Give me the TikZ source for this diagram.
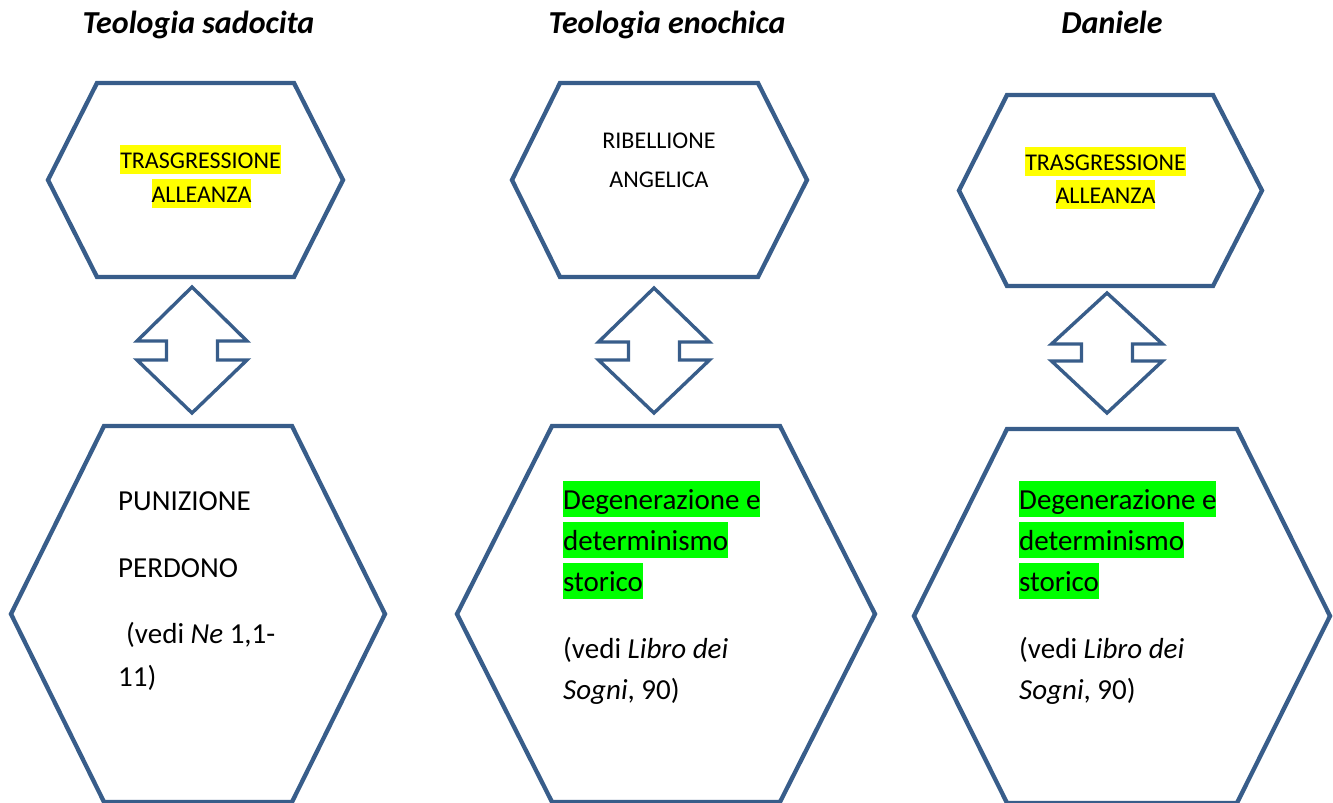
\documentclass[tikz,border=0pt]{standalone}
\usepackage{fontspec}
\setmainfont{Carlito}
\definecolor{hexblue}{RGB}{56,93,138}
\definecolor{hlyellow}{RGB}{255,255,0}
\definecolor{hlgreen}{RGB}{0,255,0}
\newcommand\hlbox[2]{{\setlength{\fboxsep}{0pt}\colorbox{#1}{\rule[-0.269em]{0pt}{1.221em}#2}}}
\tikzset{
  hexa/.style={draw=hexblue, line width=4.3pt, fill=white},
  blockarrow/.style={draw=hexblue, line width=3.4pt, fill=white},
  titletext/.style={inner sep=0pt, anchor=base, font=\fontsize{32pt}{32pt}\selectfont\bfseries\itshape},
  toptext/.style={inner sep=0pt, anchor=base, font=\fontsize{24pt}{24pt}\selectfont},
  bottext/.style={inner sep=0pt, anchor=base west, font=\fontsize{29pt}{29pt}\selectfont},
}
\begin{document}
\begin{tikzpicture}[x=1pt, y=-1pt]
\useasboundingbox (0,0) rectangle (1333,803);
\clip (0,0) rectangle (1333,803);

% titles
\node[titletext] (t1) at (198.5,33) {Teologia sadocita};
\node[titletext] (t2) at (667,33) {Teologia enochica};
\node[titletext] (t3) at (1112,33) {Daniele};

% top hexagons
\draw[hexa] (48,180) -- (97,83) -- (294,83) -- (343,180) -- (294,277) -- (97,277) -- cycle;
\coordinate (h1t) at (195.5,180);
\draw[hexa] (512,180) -- (560,83) -- (758,83) -- (807,180) -- (758,277) -- (560,277) -- cycle;
\coordinate (h2t) at (659.5,180);
\draw[hexa] (959,190.5) -- (1007,95) -- (1213,95) -- (1262,190.5) -- (1213,286) -- (1007,286) -- cycle;
\coordinate (h3t) at (1110.5,190.5);

% bottom hexagons
\draw[hexa] (11,614) -- (104,426) -- (292,426) -- (385,614) -- (292,802) -- (104,802) -- cycle;
\coordinate (h1b) at (198,614);
\draw[hexa] (457,614) -- (552,426) -- (780,426) -- (875,614) -- (780,802) -- (552,802) -- cycle;
\coordinate (h2b) at (666,614);
\draw[hexa] (914,616) -- (1007,429) -- (1237,429) -- (1330,616) -- (1237,803) -- (1007,803) -- cycle;
\coordinate (h3b) at (1122,616);

% double block arrows
\begin{scope}[shift={(192,287)}]
\draw[blockarrow] (0,0) -- (55,54) -- (25.5,54) -- (25.5,73) -- (55,73) -- (0,126) -- (-55,73) -- (-25.5,73) -- (-25.5,54) -- (-55,54) -- cycle;
\end{scope}
\begin{scope}[shift={(654,288)}]
\draw[blockarrow] (0,0) -- (55.5,54) -- (25.5,54) -- (25.5,72) -- (55.5,72) -- (0,125) -- (-55.5,72) -- (-25.5,72) -- (-25.5,54) -- (-55.5,54) -- cycle;
\end{scope}
\begin{scope}[shift={(1107,293)}]
\draw[blockarrow] (0,0) -- (55.5,51) -- (25.5,51) -- (25.5,68) -- (55.5,68) -- (0,120) -- (-55.5,68) -- (-25.5,68) -- (-25.5,51) -- (-55.5,51) -- cycle;
\end{scope}

% top texts
\node[toptext] (a1) at (200.5,168) {\hlbox{hlyellow}{TRASGRESSIONE}};
\node[toptext] (a2) at (201.5,202) {\hlbox{hlyellow}{ALLEANZA}};
\node[toptext] (b1) at (659,148) {RIBELLIONE};
\node[toptext] (b2) at (659,187) {ANGELICA};
\node[toptext] (c1) at (1105.5,170) {\hlbox{hlyellow}{TRASGRESSIONE}};
\node[toptext] (c2) at (1105.5,203) {\hlbox{hlyellow}{ALLEANZA}};

% bottom texts column 1
\node[bottext] (p1) at (118,510) {PUNIZIONE};
\node[bottext] (p2) at (118,577) {PERDONO};
\node[bottext] (p3) at (126,643) {(vedi \textit{Ne} 1,1-};
\node[bottext] (p4) at (118,686) {11)};

% bottom texts column 2
\node[bottext] (d1) at (563,509) {\hlbox{hlgreen}{Degenerazione e}};
\node[bottext] (d2) at (563,550) {\hlbox{hlgreen}{determinismo}};
\node[bottext] (d3) at (563,591) {\hlbox{hlgreen}{storico}};
\node[bottext] (d4) at (563,658) {(vedi \textit{Libro dei}};
\node[bottext] (d5) at (563,699) {\textit{Sogni}, 90)};

% bottom texts column 3
\node[bottext] (e1) at (1019,509) {\hlbox{hlgreen}{Degenerazione e}};
\node[bottext] (e2) at (1019,550) {\hlbox{hlgreen}{determinismo}};
\node[bottext] (e3) at (1019,591) {\hlbox{hlgreen}{storico}};
\node[bottext] (e4) at (1019,658) {(vedi \textit{Libro dei}};
\node[bottext] (e5) at (1019,699) {\textit{Sogni}, 90)};
\end{tikzpicture}
\end{document}
